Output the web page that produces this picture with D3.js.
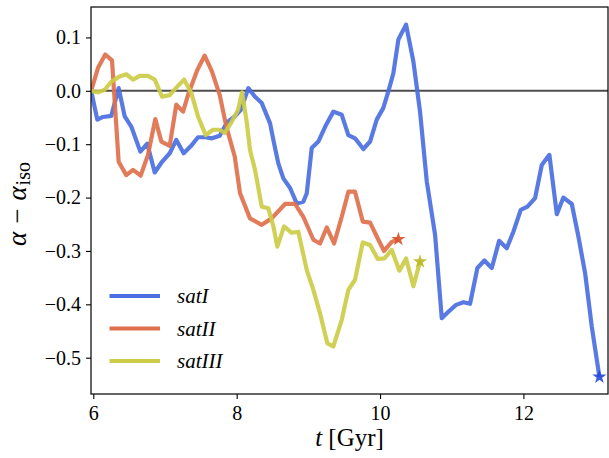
<!DOCTYPE html>
<html><head><meta charset="utf-8">
<script src="https://cdn.jsdelivr.net/npm/d3@7"></script>
</head>
<body style="margin:0">
<script>
// ---- data ----
const seriesNames = ["satI", "satII", "satIII"];
const tI = [5.97,6.056,6.135,6.251,6.354,6.438,6.530,6.656,6.753,6.857,6.959,7.066,7.158,7.261,7.359,7.461,7.563,7.656,7.764,7.833,7.879,7.973,8.057,8.163,8.256,8.350,8.466,8.521,8.581,8.651,8.745,8.838,8.930,8.978,9.047,9.139,9.247,9.349,9.466,9.558,9.651,9.767,9.861,9.954,10.046,10.116,10.186,10.256,10.363,10.465,10.558,10.652,10.768,10.861,10.953,11.061,11.163,11.256,11.358,11.456,11.559,11.661,11.768,11.860,11.963,12.056,12.163,12.256,12.362,12.466,12.558,12.675,12.767,12.861,12.954,13.060];
const aI = [0.0,-0.054,-0.049,-0.047,0.005,-0.048,-0.067,-0.114,-0.099,-0.153,-0.133,-0.117,-0.092,-0.117,-0.104,-0.087,-0.087,-0.089,-0.084,-0.067,-0.058,-0.048,-0.036,0.005,-0.011,-0.023,-0.061,-0.098,-0.136,-0.164,-0.182,-0.211,-0.208,-0.192,-0.107,-0.095,-0.064,-0.039,-0.045,-0.083,-0.089,-0.109,-0.095,-0.054,-0.032,-0.001,0.033,0.096,0.124,0.055,-0.039,-0.170,-0.270,-0.426,-0.414,-0.401,-0.396,-0.399,-0.332,-0.318,-0.332,-0.281,-0.295,-0.264,-0.223,-0.217,-0.201,-0.139,-0.120,-0.231,-0.200,-0.212,-0.273,-0.342,-0.442,-0.536];
const tII = [5.97,6.066,6.167,6.261,6.354,6.460,6.554,6.661,6.763,6.865,6.949,7.066,7.158,7.252,7.331,7.451,7.554,7.656,7.764,7.856,7.973,8.047,8.186,8.350,8.489,8.675,8.814,8.930,9.070,9.163,9.257,9.359,9.466,9.558,9.651,9.759,9.861,9.977,10.056,10.163,10.256];
const aII = [0.0,0.043,0.068,0.057,-0.133,-0.158,-0.148,-0.159,-0.120,-0.053,-0.095,-0.103,-0.026,-0.039,-0.004,0.039,0.066,0.036,-0.008,-0.067,-0.123,-0.192,-0.239,-0.251,-0.239,-0.212,-0.212,-0.236,-0.279,-0.286,-0.256,-0.286,-0.236,-0.189,-0.189,-0.245,-0.247,-0.279,-0.300,-0.283,-0.278];
const tIII = [5.97,6.066,6.159,6.251,6.368,6.460,6.554,6.647,6.763,6.857,6.959,7.066,7.158,7.266,7.367,7.461,7.568,7.670,7.764,7.833,7.926,8.019,8.075,8.140,8.186,8.256,8.350,8.442,8.512,8.567,8.661,8.768,8.860,8.978,9.070,9.163,9.265,9.349,9.466,9.558,9.651,9.759,9.861,9.968,10.061,10.163,10.270,10.363,10.465,10.558];
const aIII = [0.0,-0.003,0.002,0.017,0.027,0.031,0.021,0.028,0.028,0.021,-0.011,-0.008,0.006,0.021,-0.004,-0.048,-0.083,-0.073,-0.073,-0.079,-0.059,-0.036,-0.003,-0.058,-0.111,-0.148,-0.217,-0.220,-0.254,-0.292,-0.254,-0.266,-0.264,-0.336,-0.373,-0.417,-0.473,-0.479,-0.429,-0.373,-0.354,-0.284,-0.289,-0.315,-0.314,-0.298,-0.337,-0.314,-0.366,-0.320];
const xTicks = [6, 8, 10, 12];
const yTicks = [0.1, 0.0, -0.1, -0.2, -0.3, -0.4, -0.5];

// ---- style ----
const lineColors = ["#4a6fe0", "#e0704c", "#cdcc48"];
const starColors = ["#2448d8", "#d9502a", "#b9b820"];
const SERIF = '"Liberation Serif"';

const W = 609, H = 458;
const L = 91, R = 608, T = 7, B = 394;

const svg = d3.select("body").append("svg").attr("width", W).attr("height", H).style("display", "block");

const x = d3.scaleLinear().domain([5.968, 13.18]).range([L, R]);
const y = d3.scaleLinear().domain([-0.568, 0.157]).range([B, T]);

const series = [
  {name: seriesNames[0], t: tI, a: aI},
  {name: seriesNames[1], t: tII, a: aII},
  {name: seriesNames[2], t: tIII, a: aIII}
];

svg.append("clipPath").attr("id","clip").append("rect")
  .attr("x", L).attr("y", T).attr("width", R - L).attr("height", B - T);

const plot = svg.append("g").attr("clip-path","url(#clip)");

// zero line
plot.append("line")
  .attr("x1", L).attr("x2", R).attr("y1", y(0)).attr("y2", y(0))
  .attr("stroke", "#3a3a3a").attr("stroke-width", 2).attr("stroke-opacity", 0.9);

const line = d3.line().x(d => x(d[0])).y(d => y(d[1]));

series.forEach((s, i) => {
  const pts = s.t.map((t, j) => [t, s.a[j]]);
  plot.append("path").datum(pts)
    .attr("d", line)
    .attr("fill", "none")
    .attr("stroke", lineColors[i])
    .attr("stroke-width", 4.2)
    .attr("stroke-linejoin", "round")
    .attr("stroke-opacity", 0.92);
});

series.forEach((s, i) => {
  const n = s.t.length - 1;
  svg.append("path")
    .attr("d", d3.symbol().type(d3.symbolStar).size(62)())
    .attr("transform", `translate(${x(s.t[n])},${y(s.a[n])})`)
    .attr("fill", starColors[i])
    .attr("opacity", 0.9);
});

// frame
svg.append("rect").attr("x", L).attr("y", T).attr("width", R - L).attr("height", B - T)
  .attr("fill", "none").attr("stroke", "#000").attr("stroke-width", 1.2);

// axes
const fmt = v => (v < 0 ? "\u2212" : "") + Math.abs(v).toFixed(1);
const xAxis = svg.append("g").attr("transform", `translate(0,${B})`)
  .call(d3.axisBottom(x).tickValues(xTicks).tickFormat(d3.format("d")).tickSize(5).tickPadding(4));
const yAxis = svg.append("g").attr("transform", `translate(${L},0)`)
  .call(d3.axisLeft(y).tickValues(yTicks).tickFormat(fmt).tickSize(5).tickPadding(5));
[xAxis, yAxis].forEach(g => {
  g.attr("font-family", null).attr("font-size", null);
  g.select(".domain").remove();
  g.selectAll(".tick line").attr("stroke", "#000").attr("stroke-width", 1.1);
  g.selectAll(".tick text").attr("font-family", SERIF).attr("font-size", 20).attr("fill", "#000");
});
xAxis.selectAll(".tick text").attr("dy", "0.85em");

// axis labels
const xl = svg.append("text").attr("x", (L + R) / 2).attr("y", 446)
  .attr("text-anchor", "middle").attr("font-family", SERIF).attr("font-size", 25);
xl.append("tspan").attr("font-style", "italic").text("t");
xl.append("tspan").text(" [Gyr]");

const yl = svg.append("text")
  .attr("transform", `translate(26,246) rotate(-90)`)
  .attr("text-anchor", "start").attr("font-family", SERIF).attr("font-size", 27);
yl.append("tspan").attr("font-style", "italic").text("\u03b1");
yl.append("tspan").attr("dx", 8).text("\u2212");
yl.append("tspan").attr("dx", 8).attr("font-style", "italic").text("\u03b1");
yl.append("tspan").attr("dx", 1).attr("dy", 4).attr("font-size", 20).text("iso");

// legend
const leg = svg.append("g");
const legY = [296, 328.5, 361];
series.forEach((s, i) => {
  leg.append("line").attr("x1", 109.5).attr("x2", 160).attr("y1", legY[i]).attr("y2", legY[i])
    .attr("stroke", lineColors[i]).attr("stroke-width", 4);
  leg.append("text").attr("x", 177).attr("y", legY[i]).attr("dy", "0.35em")
    .attr("font-family", SERIF).attr("font-size", 21).attr("font-style", "italic").text(s.name);
});
</script>
</body></html>
